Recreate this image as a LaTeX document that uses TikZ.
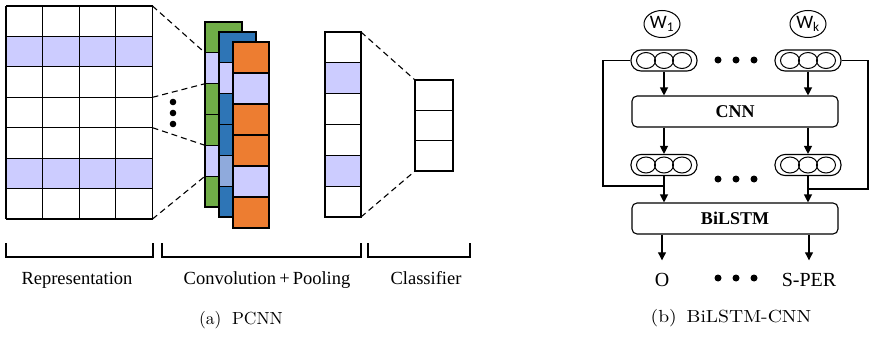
\documentclass[tikz,border=0pt]{standalone}
\usepackage{fontspec}
\newfontfamily\tnr{Liberation Serif}
\newfontfamily\wfont{Carlito}
\newfontfamily\capfont{lmroman10-regular}[Extension=.otf]
\usetikzlibrary{shapes.geometric,arrows.meta}
\definecolor{lav}{HTML}{CCCCFF}
\definecolor{mapgreen}{HTML}{70AD47}
\definecolor{mapblue}{HTML}{2E75B6}
\definecolor{maporange}{HTML}{ED7D31}
\definecolor{paleblue}{HTML}{8FAADC}
\begin{document}
\begin{tikzpicture}[x=1pt,y=-1pt,
	cellline/.style={line width=1.1pt},
	proj/.style={line width=1.1pt, dash pattern=on 6pt off 4pt},
	lbl/.style={font=\tnr\fontsize{18.5}{20}\selectfont},
	outlbl/.style={font=\tnr\fontsize{20}{22}\selectfont, text height=13pt, text depth=0pt, inner sep=0pt},
	caplbl/.style={font=\capfont\fontsize{17.5}{20}\selectfont},
	capsule/.style={draw, line width=1.1pt, rounded corners=10pt, minimum width=66pt, minimum height=21pt},
	wnode/.style={draw, ellipse, line width=1pt, minimum width=36pt, minimum height=27pt, inner sep=0pt, font=\wfont\fontsize{19}{20}\selectfont},
	layer/.style={draw, line width=1.1pt, rounded corners=5pt, minimum width=206pt, minimum height=31pt, font=\tnr\bfseries\fontsize{18}{20}\selectfont},
	arr/.style={line width=1.1pt, -{Triangle[length=8pt,width=8pt]}}]
	\useasboundingbox (0,0) rectangle (870,340);
%	(a) PCNN
	\foreach \r in {1,5}
		\fill[lav] (6,{6+\r*30.43}) rectangle ++(146.5,30.43);
	\foreach \i in {0,...,4}
		\draw[cellline] ({6+\i*36.6},6) -- ++(0,213);
	\foreach \j in {0,...,7}
		\draw[cellline] (6,{6+\j*30.43}) -- ++(146.5,0);
	\foreach \y in {102,113,124}
		\fill (173,\y) circle[radius=3.3pt];
	% feature maps
	\foreach \c [count=\i from 0] in {mapgreen,lav,mapgreen,mapgreen,lav,mapgreen}
		\draw[cellline, fill=\c] (205,{22+\i*30.83}) rectangle ++(37,30.83);
	\foreach \c [count=\i from 0] in {mapblue,lav,mapblue,mapblue,paleblue,mapblue}
		\draw[cellline, fill=\c] (219,{32+\i*30.83}) rectangle ++(37,30.83);
	\foreach \c [count=\i from 0] in {maporange,lav,maporange,maporange,lav,maporange}
		\draw[cellline, fill=\c] (233,{42+\i*31}) rectangle ++(36,31);
	% pooling + classifier
	\foreach \c [count=\i from 0] in {white,lav,white,white,lav,white}
		\draw[cellline, fill=\c] (325,{32+\i*30.83}) rectangle ++(36,30.83);
	\foreach \i in {0,1,2}
		\draw[cellline] (415,{80+\i*30.33}) rectangle ++(38,30.33);
	\coordinate (g0) at (152.5,6);
	\coordinate (g3) at (152.5,97.3);
	\coordinate (g4) at (152.5,127.7);
	\coordinate (g7) at (152.5,219);
	\draw[proj] (g0) -- (205,52.8);
	\draw[proj] (g3) -- (205,83.7);
	\draw[proj] (g4) -- (205,145.3);
	\draw[proj] (g7) -- (205,176.2);
	\draw[proj] (361,32) -- (415,80);
	\draw[proj] (361,217) -- (415,171);
	% brackets
	\draw[cellline] (6,243) |- (153,257) -- (153,243);
	\draw[cellline] (162,243) |- (361,257) -- (361,243);
	\draw[cellline] (368,243) |- (470,257) -- (470,243);
	\node[lbl] (rep) at (77,280) {Representation};
	\node[lbl] (conv) at (267,280) {Convolution\,+\,Pooling};
	\node[lbl] (cls) at (426,278) {Classifier};
	\node[caplbl] (capa) at (241,320) {(a)\hspace{0.6em}PCNN};
%	(b) BiLSTM-CNN
	\node[wnode] (w1) at (662,24) {W\textsubscript{1}};
	\node[wnode] (wk) at (808,24) {W\textsubscript{k}};
	\node[capsule] (e1) at (664,60.5) {};
	\node[capsule] (e2) at (808,60.5) {};
	\node[layer] (cnn) at (735,111.5) {CNN};
	\node[capsule] (h1) at (664,165) {};
	\node[capsule] (h2) at (808,165) {};
	\node[layer] (bilstm) at (735,218.5) {BiLSTM};
	\node[outlbl] (o) at (662,280) {O};
	\node[outlbl] (sper) at (809,280) {S-PER};
	\foreach \n in {e1,e2,h1,h2}
		\foreach \dx in {-18,0,18}
			\draw[line width=1pt] ([xshift=\dx pt]\n.center) ellipse [x radius=9.5pt, y radius=8pt];
	\foreach \y in {60,179,278}
		\foreach \x in {718,736,754}
			\fill (\x,\y) circle[radius=3.5pt];
	\foreach \n in {e1,e2}
		\draw[arr] (\n.south) -- (\n.south |- cnn.north);
	\foreach \n in {h1,h2}
		\draw[arr] (\n.north |- cnn.south) -- (\n.north);
	\foreach \n in {h1,h2}
		\draw[arr] (\n.south) -- (\n.south |- bilstm.north);
	\foreach \n in {o,sper}
		\draw[arr, shorten >=13pt] (\n.north |- bilstm.south) -- (\n.north);
	\coordinate (fbl) at (603,186);
	\coordinate (fbr) at (868,189);
	\draw[cellline] (e1.west) -| (fbl) -- (fbl -| h1.south);
	\draw[cellline] (e2.east) -| (fbr) -- (fbr -| h2.south);
	\node[caplbl, xscale=1.12] (capb) at (731,318) {(b)\hspace{0.5em}BiLSTM-CNN};
\end{tikzpicture}
\end{document}
